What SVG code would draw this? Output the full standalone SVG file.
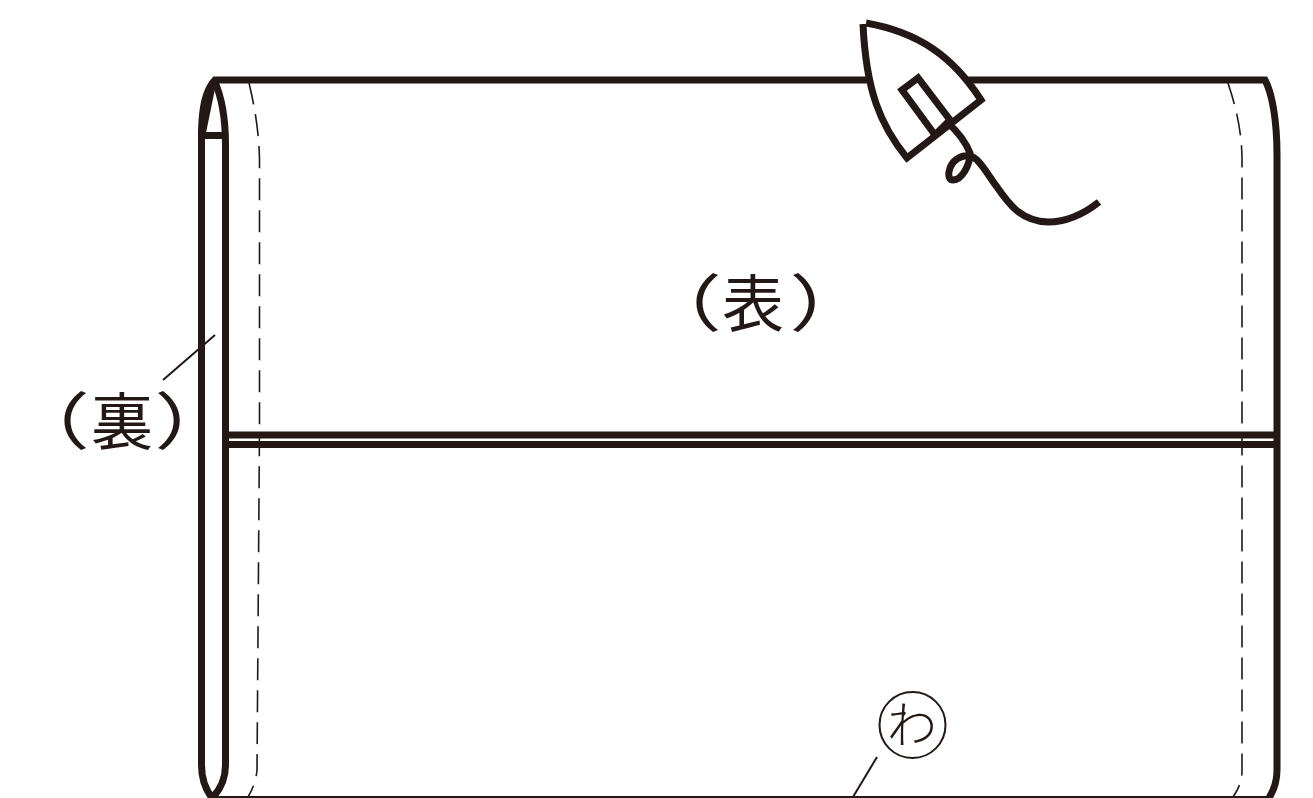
<svg xmlns="http://www.w3.org/2000/svg" width="1313" height="798" viewBox="0 0 1313 798">
<style>
.l{fill:none;stroke:#231815;stroke-width:7}
.t{fill:none;stroke:#231815;stroke-width:2}
.d{fill:none;stroke:#231815;stroke-width:1.6;stroke-dasharray:22 10}
.x{font-family:"Noto Sans CJK JP","Noto Sans",sans-serif;font-weight:400;fill:#231815;text-anchor:middle}
</style>
<rect width="1313" height="798" fill="#fff"/>
<g id="cloth">
<path class="t" d="M215 797H1272"/>
<path class="d" d="M249 83C254 104 259 130 259.500 160V430L257 770C256 782 252 790 248 797"/>
<path class="d" d="M1228 83C1235 104 1242 130 1242 160V770C1242 782 1238 790 1233 797"/>
<path class="l" d="M213 80H1265C1272 93 1277 120 1277 155V770C1277 780 1274 790 1269 798"/>
<path fill="#231815" d="M213 77C202 88 198 108 198 137L206 133L216 84Z"/>
<path class="l" d="M214 80C221 95 225.500 118 225.500 145V765C225.500 780 220 790 212 798"/>
<path class="l" d="M201.500 130V765C201.500 780 206 790 212 798"/>
<path class="l" d="M199 135.500H225"/>
<path class="l" d="M229 435H1275M229 444.500H1275"/>
</g>
<g id="iron">
<path d="M863 25C866 90 880 125 907 158L981 100C952 55 917 32 867 24Z" fill="#fff"/>
<path class="l" d="M863 24C866 90 880 125 907 158L981 100C952 55 917 32 866 23"/>
<path class="l" d="M918 78L902 90L935 135L950 120Z"/>
<path class="l" d="M948 123C958 132 966 143 970 153C970 165 962 180 953 180C946 180 948 165 957 159C964 154 972 155 977 160C985 168 990 178 997 187C1010 206 1022 221 1048 222C1068 222 1085 213 1099 202"/>
</g>
<g id="label-omote">
<text class="x" transform="translate(680 327) scale(1.35 1)" font-size="62">（</text>
<text class="x" x="753" y="327" font-size="62">表</text>
<text class="x" transform="translate(831 327) scale(1.35 1)" font-size="62">）</text>
</g>
<g id="label-ura">
<path class="t" d="M163 380L215 335"/>
<text class="x" transform="translate(48 445) scale(1.35 1)" font-size="62">（</text>
<text class="x" x="122" y="445" font-size="62">裏</text>
<text class="x" transform="translate(196 445) scale(1.35 1)" font-size="62">）</text>
</g>
<g id="label-wa">
<circle class="t" cx="912.500" cy="725" r="33"/>
<text class="x" x="912" y="743" font-size="50" style="font-weight:300">わ</text>
<path class="t" d="M877 757L853 797"/>
</g>
</svg>
